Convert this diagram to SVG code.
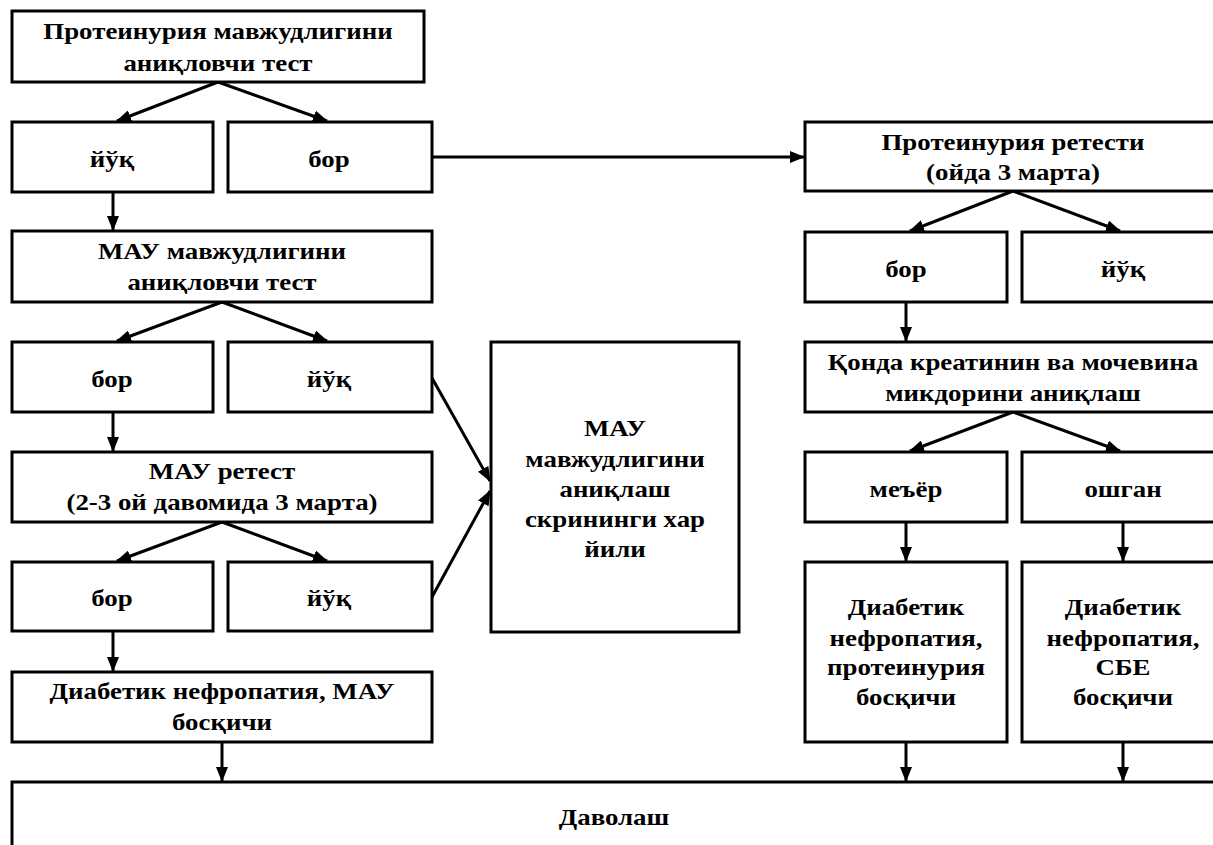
<svg xmlns="http://www.w3.org/2000/svg" width="1213" height="845" viewBox="0 0 1213 845">
<defs>
<style>
.box{fill:#fff;stroke:#000;stroke-width:3}
.t{font-family:"Liberation Serif","Times New Roman",serif;font-weight:bold;font-size:24px;fill:#000;text-anchor:middle;transform-box:fill-box;transform-origin:center;transform:scaleX(1.12)}
.c{fill:none;stroke:#000;stroke-width:3}
</style>
<marker id="ah" markerUnits="userSpaceOnUse" markerWidth="15" markerHeight="12" viewBox="0 0 15 12" refX="14" refY="6" orient="auto">
<path d="M0,0 L15,6 L0,12 Z" fill="#000"/>
</marker>
</defs>
<rect width="1213" height="845" fill="#fff"/>
<g id="connectors">
<line class="c" x1="218" y1="82" x2="117" y2="121" marker-end="url(#ah)"/>
<line class="c" x1="218" y1="82" x2="327" y2="121" marker-end="url(#ah)"/>
<line class="c" x1="113" y1="192" x2="113" y2="230" marker-end="url(#ah)"/>
<line class="c" x1="432" y1="157" x2="804" y2="157" marker-end="url(#ah)"/>
<line class="c" x1="222" y1="302" x2="117" y2="341" marker-end="url(#ah)"/>
<line class="c" x1="222" y1="302" x2="327" y2="341" marker-end="url(#ah)"/>
<line class="c" x1="113" y1="412" x2="113" y2="451" marker-end="url(#ah)"/>
<line class="c" x1="432" y1="378" x2="490" y2="481" marker-end="url(#ah)"/>
<line class="c" x1="222" y1="522" x2="117" y2="561" marker-end="url(#ah)"/>
<line class="c" x1="222" y1="522" x2="327" y2="561" marker-end="url(#ah)"/>
<line class="c" x1="113" y1="631" x2="113" y2="671" marker-end="url(#ah)"/>
<line class="c" x1="432" y1="597" x2="490" y2="491" marker-end="url(#ah)"/>
<line class="c" x1="222" y1="742" x2="222" y2="781" marker-end="url(#ah)"/>
<line class="c" x1="1013" y1="191" x2="910" y2="231" marker-end="url(#ah)"/>
<line class="c" x1="1013" y1="191" x2="1120" y2="231" marker-end="url(#ah)"/>
<line class="c" x1="906" y1="302" x2="906" y2="341" marker-end="url(#ah)"/>
<line class="c" x1="1013" y1="412" x2="910" y2="451" marker-end="url(#ah)"/>
<line class="c" x1="1013" y1="412" x2="1120" y2="451" marker-end="url(#ah)"/>
<line class="c" x1="906" y1="522" x2="906" y2="561" marker-end="url(#ah)"/>
<line class="c" x1="1123" y1="522" x2="1123" y2="561" marker-end="url(#ah)"/>
<line class="c" x1="906" y1="742" x2="906" y2="781" marker-end="url(#ah)"/>
<line class="c" x1="1123" y1="742" x2="1123" y2="781" marker-end="url(#ah)"/>
</g>
<g id="n1"><rect class="box" x="12" y="11" width="412" height="71"/><text class="t" x="218" y="39">Протеинурия мавжудлигини</text><text class="t" x="218" y="71">аниқловчи тест</text></g>
<g id="n2"><rect class="box" x="12" y="122" width="201" height="70"/><text class="t" x="112" y="167">йўқ</text></g>
<g id="n3"><rect class="box" x="228" y="122" width="204" height="70"/><text class="t" x="329" y="167">бор</text></g>
<g id="n4"><rect class="box" x="12" y="231" width="420" height="71"/><text class="t" x="222" y="259">МАУ мавжудлигини</text><text class="t" x="222" y="290">аниқловчи тест</text></g>
<g id="n5"><rect class="box" x="12" y="342" width="201" height="70"/><text class="t" x="112" y="387">бор</text></g>
<g id="n6"><rect class="box" x="228" y="342" width="204" height="70"/><text class="t" x="329" y="387">йўқ</text></g>
<g id="n7"><rect class="box" x="12" y="452" width="420" height="70"/><text class="t" x="222" y="479">МАУ ретест</text><text class="t" x="222" y="510">(2-3 ой давомида 3 марта)</text></g>
<g id="n8"><rect class="box" x="12" y="562" width="201" height="69"/><text class="t" x="112" y="606">бор</text></g>
<g id="n9"><rect class="box" x="228" y="562" width="204" height="69"/><text class="t" x="329" y="606">йўқ</text></g>
<g id="n10"><rect class="box" x="12" y="672" width="420" height="70"/><text class="t" x="222" y="699">Диабетик нефропатия, МАУ</text><text class="t" x="222" y="730">босқичи</text></g>
<g id="n11"><rect class="box" x="491" y="342" width="248" height="290"/><text class="t" x="615" y="436">МАУ</text><text class="t" x="615" y="467">мавжудлигини</text><text class="t" x="615" y="497">аниқлаш</text><text class="t" x="615" y="527">скрининги хар</text><text class="t" x="615" y="557">йили</text></g>
<g id="r1"><rect class="box" x="805" y="122" width="416" height="69"/><text class="t" x="1013" y="150">Протеинурия ретести</text><text class="t" x="1013" y="180">(ойда 3 марта)</text></g>
<g id="r2"><rect class="box" x="805" y="232" width="202" height="70"/><text class="t" x="906" y="277">бор</text></g>
<g id="r3"><rect class="box" x="1022" y="232" width="200" height="70"/><text class="t" x="1123" y="277">йўқ</text></g>
<g id="r4"><rect class="box" x="805" y="342" width="416" height="70"/><text class="t" x="1013" y="370">Қонда креатинин ва мочевина</text><text class="t" x="1013" y="401">микдорини аниқлаш</text></g>
<g id="r5"><rect class="box" x="805" y="452" width="202" height="70"/><text class="t" x="906" y="497">меъёр</text></g>
<g id="r6"><rect class="box" x="1022" y="452" width="200" height="70"/><text class="t" x="1123" y="497">ошган</text></g>
<g id="r7"><rect class="box" x="805" y="562" width="202" height="180"/><text class="t" x="906" y="615">Диабетик</text><text class="t" x="906" y="646">нефропатия,</text><text class="t" x="906" y="675">протеинурия</text><text class="t" x="906" y="705">босқичи</text></g>
<g id="r8"><rect class="box" x="1022" y="562" width="200" height="180"/><text class="t" x="1123" y="615">Диабетик</text><text class="t" x="1123" y="646">нефропатия,</text><text class="t" x="1123" y="675">СБЕ</text><text class="t" x="1123" y="705">босқичи</text></g>
<g id="n12"><rect class="box" x="12" y="782" width="1210" height="100"/><text class="t" x="614" y="825">Даволаш</text></g>
</svg>
